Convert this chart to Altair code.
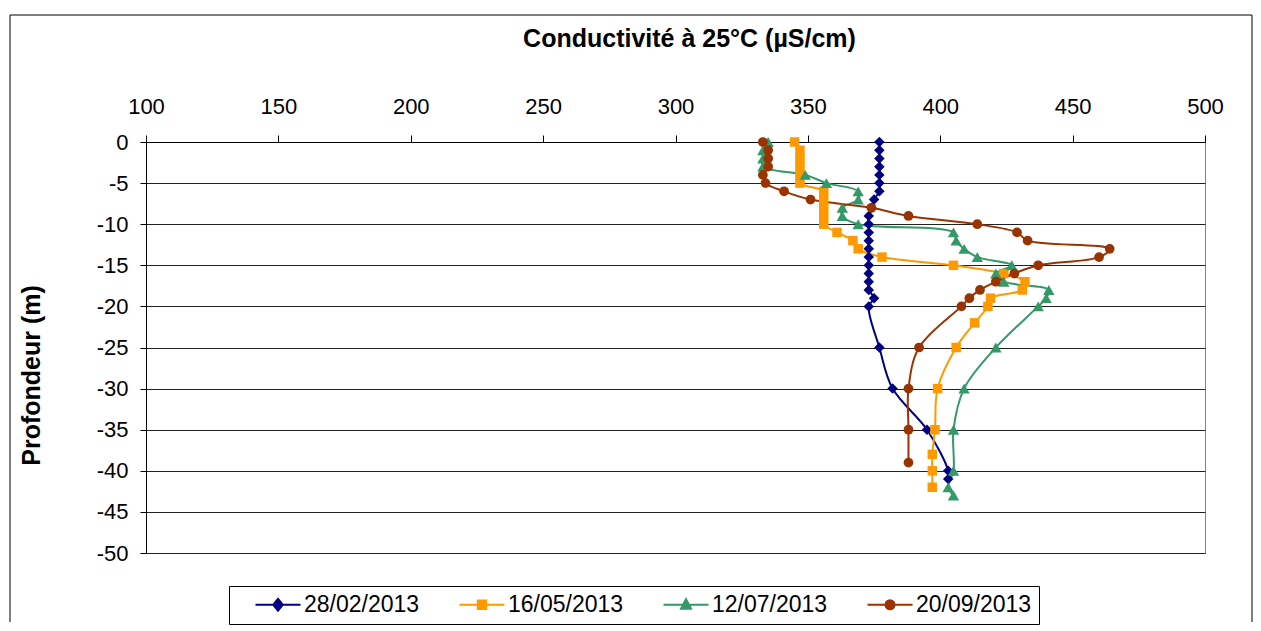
import altair as alt
import pandas as pd

series_names = ["28/02/2013", "16/05/2013", "12/07/2013", "20/09/2013"]
colors = ["#000080", "#FF9900", "#339966", "#993300"]
marker_shapes = ["diamond", "square", "triangle-up", "circle"]
marker_sizes = [110, 90, 130, 95]

x_ticks = [100, 150, 200, 250, 300, 350, 400, 450, 500]
y_ticks = [0, -5, -10, -15, -20, -25, -30, -35, -40, -45, -50]

d1_depth = [0, -1, -2, -3, -4, -5, -6, -7, -8, -9, -10, -11, -12, -13, -14, -15, -16, -17, -18, -19, -20, -25, -30, -35, -40, -41]
d1_cond = [377, 377, 377, 377, 377, 377, 377, 375, 374, 373, 373, 373, 373, 373, 373, 373, 373, 373, 373, 375, 373, 377, 382, 395, 403, 403]

d2_depth = [0, -1, -2, -3, -4, -5, -6, -7, -8, -9, -10, -11, -12, -13, -14, -15, -16, -17, -18, -19, -20, -22, -25, -30, -35, -38, -40, -42]
d2_cond = [345, 347, 347, 347, 347, 347, 356, 356, 356, 356, 356, 361, 367, 369, 378, 405, 424, 432, 431, 419, 418, 413, 406, 399, 398, 397, 397, 397]

d3_depth = [0, -1, -2, -3, -4, -5, -6, -7, -8, -9, -10, -11, -12, -13, -14, -15, -16, -17, -18, -19, -20, -25, -30, -35, -40, -42, -43]
d3_cond = [335, 333, 333, 333, 349, 357, 369, 369, 363, 363, 369, 405, 406, 409, 414, 427, 421, 424, 441, 440, 437, 421, 409, 405, 405, 403, 405]

d4_depth = [0, -1, -2, -3, -4, -5, -6, -7, -8, -9, -10, -11, -12, -13, -14, -15, -16, -17, -18, -19, -20, -25, -30, -35, -39]
d4_cond = [333, 335, 335, 335, 333, 334, 341, 351, 374, 388, 414, 429, 433, 464, 460, 437, 428, 421, 415, 411, 408, 392, 388, 388, 388]

rows = []
for name, depths, vals in zip(series_names,
                              [d1_depth, d2_depth, d3_depth, d4_depth],
                              [d1_cond, d2_cond, d3_cond, d4_cond]):
    for i, (d, v) in enumerate(zip(depths, vals)):
        rows.append({"series": name, "i": i, "depth": d, "cond": v})
df = pd.DataFrame(rows)

FONT = "Liberation Sans"

x_enc = alt.X("cond:Q",
              scale=alt.Scale(domain=[100, 500], nice=False, zero=False),
              axis=alt.Axis(orient="top", values=x_ticks, grid=False,
                            title="Conductivité à 25°C (µS/cm)",
                            tickSize=7, labelPadding=17, labelFlush=False,
                            titleX=543, titleY=-104, titleBaseline="middle",
                            titleAlign="center"))
y_enc = alt.Y("depth:Q",
              scale=alt.Scale(domain=[-50, 0], nice=False, zero=False),
              axis=alt.Axis(values=y_ticks, grid=True, title="Profondeur (m)",
                            tickSize=6, labelPadding=12, labelFlush=False,
                            labelExpr="replace(datum.label, '\u2212', '-')",
                            titleX=-115, titleY=233, titleAngle=270,
                            titleBaseline="middle", titleAlign="center"))

legend_paths = [
    "M0.8,0H5.3M3.05,-0.6L3.53,0L3.05,0.6L2.57,0Z",
    "M0.8,0H5.3M2.63,-0.42H3.47V0.42H2.63Z",
    "M0.8,0H5.3M3.05,-0.55L3.55,0.4H2.55Z",
    "M0.8,0H5.3M3.5,0A0.45,0.45,0,1,1,2.6,0A0.45,0.45,0,1,1,3.5,0Z",
]
leg_def = alt.Legend(title=None, orient="none", legendX=83, legendY=444,
                     direction="horizontal", columns=4, symbolSize=400,
                     symbolStrokeWidth=2, labelFontSize=23, labelFont=FONT,
                     labelColor="black", strokeColor="black", fillColor="white",
                     padding=7, columnPadding=20, labelOffset=45, symbolOpacity=1)

color_enc = alt.Color("series:N", scale=alt.Scale(domain=series_names, range=colors), legend=leg_def)

frame_data = alt.Data(values=[{"f": 1}])
frame_top = alt.Chart(frame_data).mark_rule(color="black", strokeWidth=1).encode(
    x=alt.value(-136), x2=alt.value(1106), y=alt.value(-127))
frame_left = alt.Chart(frame_data).mark_rule(color="black", strokeWidth=1).encode(
    x=alt.value(-136), y=alt.value(-127), y2=alt.value(480))
frame_right = alt.Chart(frame_data).mark_rule(color="black", strokeWidth=1).encode(
    x=alt.value(1106), y=alt.value(-127), y2=alt.value(480))

lines = alt.Chart(df).mark_line(strokeWidth=2, interpolate="catmull-rom").encode(
    x=x_enc, y=y_enc, color=color_enc, order="i:Q")

color_nl = alt.Color("series:N", scale=alt.Scale(domain=series_names, range=colors), legend=None)
point_layers = []
for name, shp, sz in zip(series_names, marker_shapes, marker_sizes):
    point_layers.append(
        alt.Chart(df).transform_filter(alt.datum.series == name)
        .mark_point(filled=True, opacity=1, shape=shp, size=sz)
        .encode(x=x_enc, y=y_enc, color=color_nl)
    )

legend_layer = alt.Chart(df).mark_point(
    filled=True, opacity=0, strokeWidth=2).encode(
    x=x_enc, y=y_enc,
    fill=alt.Fill("series:N", scale=alt.Scale(domain=series_names, range=colors), legend=leg_def),
    stroke=alt.Stroke("series:N", scale=alt.Scale(domain=series_names, range=colors), legend=leg_def),
    shape=alt.Shape("series:N", scale=alt.Scale(domain=series_names, range=legend_paths), legend=leg_def),
)

chart = alt.layer(frame_top, frame_left, frame_right, lines, *point_layers, legend_layer).properties(
    width=1059, height=411,
    padding={"left": 1, "top": 6, "right": 0, "bottom": 0},
    background="white",
).configure_view(
    stroke="#808080", strokeWidth=1
).configure_axis(
    labelFont=FONT, labelFontSize=22, labelColor="black",
    titleFont=FONT, titleFontSize=25, titleFontWeight="bold", titleColor="black",
    domainColor="black", domainWidth=1, tickColor="black", tickWidth=1,
    gridColor="#222222", gridWidth=1, gridOpacity=1,
)

chart.save("out.html", embed_options={"renderer": "svg", "actions": False})
